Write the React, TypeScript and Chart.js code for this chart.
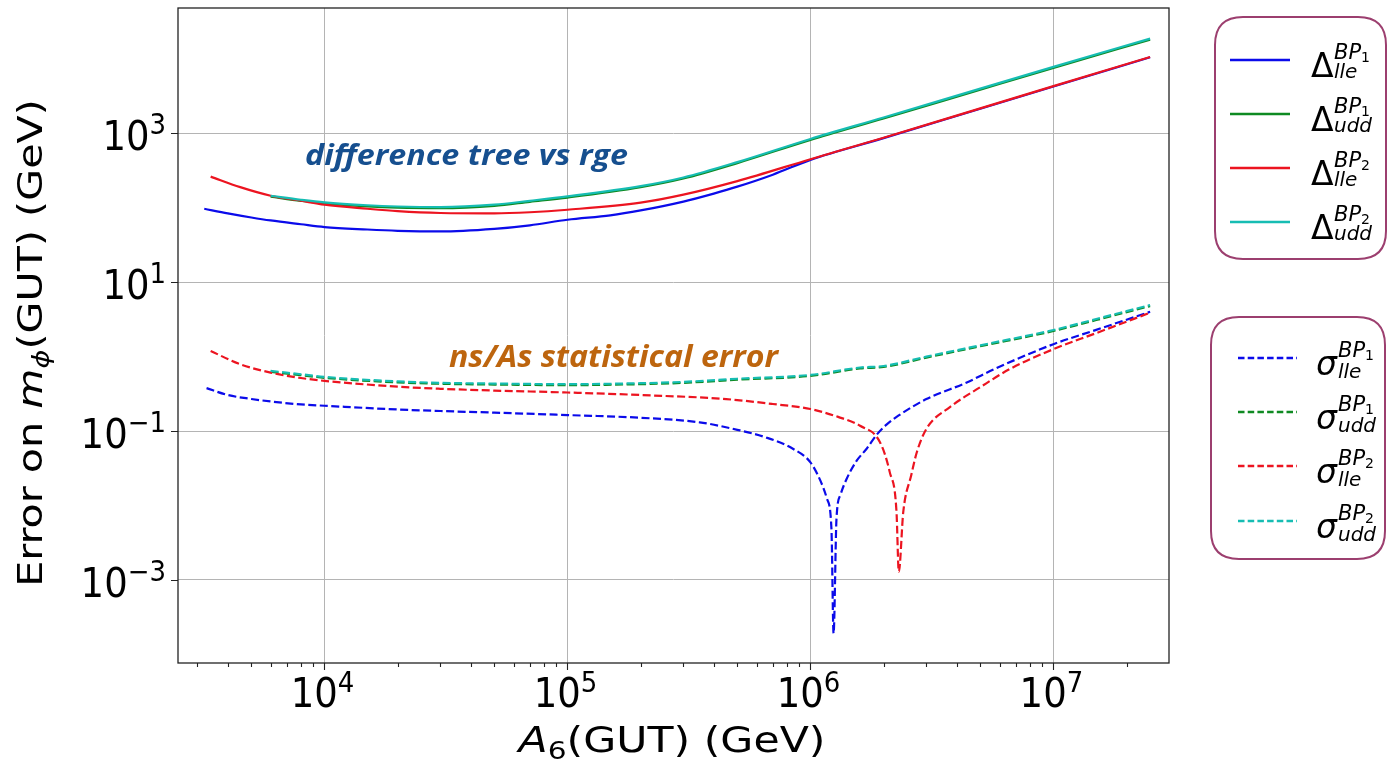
import React, { useEffect, useRef } from 'react';
import { Chart, registerables } from 'chart.js';
Chart.register(...registerables);

// ---------- axis ranges ----------
const X_MIN = 2495;
const X_MAX = 2.99e7;
const Y_MIN = 7.67e-5;
const Y_MAX = 4.82e4;

// ---------- tick labels ----------
const xTickValues = [1e4, 1e5, 1e6, 1e7];
const xTickExponents = ['4', '5', '6', '7'];
const yTickValues = [1e-3, 1e-1, 1e1, 1e3];
const yTickExponents = ['\u22123', '\u22121', '1', '3'];
const xMinorMultipliers = [2, 3, 4, 5, 6, 7, 8, 9];
const xMinorDecades = [3, 4, 5, 6, 7];

// ---------- data: Delta (difference tree vs rge) ----------
const dLle1X = [3200, 4000, 5000, 6000, 8000, 1e4, 1.5e4, 2e4, 3e4, 5e4, 7e4, 1e5, 1.5e5, 2e5, 3e5, 4e5, 5e5, 7e5, 1e6, 2e6, 5e6, 1e7, 2.5e7];
const dLle1Y = [97, 84, 74, 67.5, 60, 55, 51, 49, 48, 52, 58, 69, 79, 92, 121, 155, 192, 278, 440, 860, 2140, 4250, 10500];

const dUdd1X = [6000, 8000, 1e4, 1.5e4, 2e4, 3e4, 5e4, 7e4, 1e5, 2e5, 3e5, 5e5, 1e6, 2e6, 5e6, 1e7, 2.5e7];
const dUdd1Y = [141, 124, 114, 104, 100, 98.5, 106, 120, 137, 189, 247, 398, 815, 1580, 3860, 7570, 18150];

const dLle2X = [3400, 4500, 6000, 8000, 1e4, 1.5e4, 2e4, 3e4, 5e4, 7e4, 1e5, 2e5, 3e5, 5e5, 1e6, 2e6, 5e6, 1e7, 2.5e7];
const dLle2Y = [262, 189, 145, 124, 110, 97, 90, 85, 84, 87, 94, 117, 150, 228, 449, 873, 2160, 4300, 10600];

const dUdd2X = [6000, 8000, 1e4, 1.5e4, 2e4, 3e4, 5e4, 7e4, 1e5, 2e5, 3e5, 5e5, 1e6, 2e6, 5e6, 1e7, 2.5e7];
const dUdd2Y = [145, 128, 118, 108, 104, 102, 110, 124, 142, 195, 255, 410, 840, 1630, 3980, 7800, 18700];

// ---------- data: sigma (ns/As statistical error) ----------
const sLle1X = [3270, 4000, 5000, 6000, 8000, 1e4, 2e4, 3e4, 5e4, 1e5, 2e5, 3.5e5, 5e5, 6.5e5, 8.5e5, 1e6, 1.1e6, 1.17e6, 1.22e6, 1.245e6, 1.28e6, 1.33e6, 1.41e6, 1.55e6, 1.7e6, 1.87e6, 2.05e6, 2.3e6, 3e6, 4.4e6, 5.7e6, 1e7, 1.5e7, 2.5e7];
const sLle1Y = [0.378, 0.305, 0.27, 0.25, 0.228, 0.219, 0.195, 0.186, 0.177, 0.164, 0.151, 0.131, 0.104, 0.083, 0.0575, 0.038, 0.0214, 0.0123, 0.0049, 0.000192, 0.0067, 0.014, 0.0229, 0.04, 0.0575, 0.0887, 0.121, 0.161, 0.269, 0.45, 0.678, 1.47, 2.29, 4.0];

const sUdd1X = [6000, 8000, 1e4, 2e4, 3e4, 5e4, 1e5, 2e5, 3e5, 5e5, 1e6, 1.6e6, 2e6, 3e6, 5e6, 1e7, 1.5e7, 2.5e7];
const sUdd1Y = [0.625, 0.563, 0.519, 0.451, 0.432, 0.422, 0.414, 0.427, 0.444, 0.49, 0.551, 0.693, 0.726, 0.97, 1.38, 2.21, 3.1, 4.79];

const sLle2X = [3400, 4500, 6000, 8000, 1e4, 2e4, 3e4, 5e4, 1e5, 2e5, 4.5e5, 7e5, 1e6, 1.3e6, 1.6e6, 1.93e6, 2.12e6, 2.26e6, 2.31e6, 2.41e6, 2.6e6, 2.74e6, 3e6, 3.75e6, 5e6, 6.6e6, 1e7, 1.5e7, 2.5e7];
const sLle2Y = [1.19, 0.79, 0.61, 0.516, 0.473, 0.395, 0.37, 0.35, 0.33, 0.305, 0.269, 0.231, 0.198, 0.155, 0.118, 0.0714, 0.0281, 0.0083, 0.00129, 0.0082, 0.0257, 0.052, 0.107, 0.21, 0.389, 0.678, 1.26, 2.07, 3.89];

const sUdd2X = [6000, 8000, 1e4, 2e4, 3e4, 5e4, 1e5, 2e5, 3e5, 5e5, 1e6, 1.6e6, 2e6, 3e6, 5e6, 1e7, 1.5e7, 2.5e7];
const sUdd2Y = [0.644, 0.58, 0.535, 0.465, 0.445, 0.435, 0.427, 0.44, 0.458, 0.505, 0.568, 0.714, 0.748, 1.0, 1.42, 2.28, 3.2, 4.94];

// ---------- styles ----------
const BLUE = '#0b0bea';
const GREEN = '#0f8a22';
const RED = '#ec1420';
const CYAN = '#16bdb3';
const FONT = "'DejaVu Sans', sans-serif";
const DASH = [8, 3.5];

type Part = { t: string; size: number; italic?: boolean; weight?: string; dy?: number; family?: string };

const partFont = (p: Part) =>
  `${p.italic ? 'italic ' : ''}${p.weight || 'normal'} ${p.size}px ${p.family || FONT}`;

function measureParts(ctx: CanvasRenderingContext2D, parts: Part[]) {
  let w = 0;
  for (const p of parts) {
    ctx.font = partFont(p);
    w += ctx.measureText(p.t).width;
  }
  return w;
}

function drawParts(
  ctx: CanvasRenderingContext2D,
  parts: Part[],
  x: number,
  y: number,
  align: 'left' | 'center' | 'right',
  color: string,
  sx = 1,
  sy = 1,
  rotate = 0
) {
  const w = measureParts(ctx, parts);
  ctx.save();
  ctx.translate(x, y);
  if (rotate) ctx.rotate(rotate);
  ctx.scale(sx, sy);
  let cx = align === 'center' ? -w / 2 : align === 'right' ? -w : 0;
  ctx.textAlign = 'left';
  ctx.textBaseline = 'alphabetic';
  ctx.fillStyle = color;
  for (const p of parts) {
    ctx.font = partFont(p);
    ctx.fillText(p.t, cx, p.dy || 0);
    cx += ctx.measureText(p.t).width;
  }
  ctx.restore();
}

function roundRect(ctx: CanvasRenderingContext2D, x: number, y: number, w: number, h: number, r: number) {
  ctx.beginPath();
  ctx.moveTo(x + r, y);
  ctx.lineTo(x + w - r, y);
  ctx.quadraticCurveTo(x + w, y, x + w, y + r);
  ctx.lineTo(x + w, y + h - r);
  ctx.quadraticCurveTo(x + w, y + h, x + w - r, y + h);
  ctx.lineTo(x + r, y + h);
  ctx.quadraticCurveTo(x, y + h, x, y + h - r);
  ctx.lineTo(x, y + r);
  ctx.quadraticCurveTo(x, y, x + r, y);
  ctx.closePath();
}

const legendEntries = [
  { color: BLUE, sub: 'lle', n: '1' },
  { color: GREEN, sub: 'udd', n: '1' },
  { color: RED, sub: 'lle', n: '2' },
  { color: CYAN, sub: 'udd', n: '2' },
];

const overlayPlugin = {
  id: 'overlay',
  afterDraw(chart: any) {
    const ctx: CanvasRenderingContext2D = chart.ctx;
    const area = chart.chartArea;
    const xs = chart.scales.x;
    const ys = chart.scales.y;

    // frame
    ctx.save();
    ctx.strokeStyle = '#222';
    ctx.lineWidth = 1.3;
    ctx.strokeRect(area.left, area.top, area.right - area.left, area.bottom - area.top);

    // ticks
    ctx.lineWidth = 1.1;
    ctx.beginPath();
    for (const v of xTickValues) {
      const px = Math.round(xs.getPixelForValue(v)) + 0.5;
      ctx.moveTo(px, area.bottom);
      ctx.lineTo(px, area.bottom + 7);
    }
    for (const d of xMinorDecades) {
      for (const m of xMinorMultipliers) {
        const v = m * Math.pow(10, d);
        if (v <= X_MIN || v >= X_MAX) continue;
        const px = Math.round(xs.getPixelForValue(v)) + 0.5;
        ctx.moveTo(px, area.bottom);
        ctx.lineTo(px, area.bottom + 4);
      }
    }
    for (const v of yTickValues) {
      const py = Math.round(ys.getPixelForValue(v)) + 0.5;
      ctx.moveTo(area.left, py);
      ctx.lineTo(area.left - 7, py);
    }
    ctx.stroke();
    ctx.restore();

    // tick labels
    xTickValues.forEach((v, i) => {
      const px = xs.getPixelForValue(v);
      drawParts(ctx, [{ t: '10', size: 37 }, { t: xTickExponents[i], size: 26, dy: -14 }], px - 2, 707, 'center', '#000', 1, 1.1);
    });
    yTickValues.forEach((v, i) => {
      const py = ys.getPixelForValue(v);
      drawParts(ctx, [{ t: '10', size: 37 }, { t: yTickExponents[i], size: 26, dy: -15 }], 166, py + 17, 'right', '#000', 1, 1.08);
    });

    // x title
    const xParts: Part[] = [
      { t: 'A', size: 36, italic: true },
      { t: '6', size: 25, dy: 7 },
      { t: '(GUT) (GeV)', size: 36 },
    ];
    const xw = measureParts(ctx, xParts);
    const xsx = Math.max(0.85, Math.min(1.25, 307 / xw));
    drawParts(ctx, xParts, 672, 752, 'center', '#000', xsx, 1);

    // y title (rotated)
    const yParts: Part[] = [
      { t: 'Error on ', size: 33 },
      { t: 'm', size: 33, italic: true },
      { t: '\u03d5', size: 23, italic: true, dy: 7 },
      { t: '(GUT) (GeV)', size: 33 },
    ];
    const yw = measureParts(ctx, yParts);
    const ysx = Math.max(0.85, Math.min(1.25, 493 / yw));
    drawParts(ctx, yParts, 42, 343, 'center', '#000', ysx, 1, -Math.PI / 2);

    // annotations
    const a1: Part[] = [{ t: 'difference tree vs rge', size: 29, italic: true, weight: 'bold', family: "'Open Sans', 'Noto Sans', sans-serif" }];
    const a1w = measureParts(ctx, a1);
    drawParts(ctx, a1, 305, 165, 'left', '#164f8f', Math.max(0.8, Math.min(1.2, 323 / a1w)), 1);
    const a2: Part[] = [{ t: 'ns/As statistical error', size: 31, italic: true, weight: 'bold', family: "'Open Sans', 'Noto Sans', sans-serif" }];
    const a2w = measureParts(ctx, a2);
    drawParts(ctx, a2, 449, 367, 'left', '#bd650e', Math.max(0.8, Math.min(1.2, 329 / a2w)), 1);

    // legends
    ctx.save();
    ctx.fillStyle = '#fff';
    ctx.strokeStyle = '#9c3f6f';
    ctx.lineWidth = 2;
    roundRect(ctx, 1215, 17, 171, 242, 28);
    ctx.fill();
    ctx.stroke();
    roundRect(ctx, 1211, 317, 174, 242, 28);
    ctx.fill();
    ctx.stroke();
    ctx.restore();

    const rows1 = [60, 114, 168, 222];
    legendEntries.forEach((e, i) => {
      const y = rows1[i];
      ctx.save();
      ctx.strokeStyle = e.color;
      ctx.lineWidth = 2.5;
      ctx.beginPath();
      ctx.moveTo(1230, y);
      ctx.lineTo(1290, y);
      ctx.stroke();
      ctx.restore();
      drawParts(ctx, [{ t: '\u0394', size: 33 }], 1311, y + 17, 'left', '#000');
      drawParts(ctx, [{ t: 'BP', size: 21, italic: true }, { t: e.n, size: 14, dy: 3 }], 1334, y - 1, 'left', '#000');
      drawParts(ctx, [{ t: e.sub, size: 20, italic: true }], 1334, y + 18, 'left', '#000');
    });

    const rows2 = [358, 412, 466, 521];
    legendEntries.forEach((e, i) => {
      const y = rows2[i];
      ctx.save();
      ctx.strokeStyle = e.color;
      ctx.lineWidth = 2.3;
      ctx.setLineDash([6.5, 3.2]);
      ctx.beginPath();
      ctx.moveTo(1238, y);
      ctx.lineTo(1297, y);
      ctx.stroke();
      ctx.restore();
      drawParts(ctx, [{ t: '\u03c3', size: 33, italic: true }], 1316, y + 17, 'left', '#000');
      drawParts(ctx, [{ t: 'BP', size: 21, italic: true }, { t: e.n, size: 14, dy: 3 }], 1338, y - 1, 'left', '#000');
      drawParts(ctx, [{ t: e.sub, size: 20, italic: true }], 1338, y + 20, 'left', '#000');
    });
  },
};

const pts = (xs: number[], ys: number[]) => xs.map((x, i) => ({ x, y: ys[i] }));

function line(label: string, xs: number[], ys: number[], color: string, dashed: boolean, order: number) {
  return {
    label,
    data: pts(xs, ys),
    borderColor: color,
    backgroundColor: color,
    borderWidth: 2.2,
    borderDash: dashed ? DASH : [],
    pointRadius: 0,
    cubicInterpolationMode: 'monotone',
    fill: false,
    order,
  };
}

export default function App() {
  const ref = useRef<HTMLCanvasElement | null>(null);
  useEffect(() => {
    if (!ref.current) return;
    const chart = new Chart(ref.current, {
      type: 'line',
      data: {
        datasets: [
          line('Δ lle BP1', dLle1X, dLle1Y, BLUE, false, 8),
          line('Δ udd BP1', dUdd1X, dUdd1Y, GREEN, false, 7),
          line('Δ lle BP2', dLle2X, dLle2Y, RED, false, 6),
          line('Δ udd BP2', dUdd2X, dUdd2Y, CYAN, false, 5),
          line('σ lle BP1', sLle1X, sLle1Y, BLUE, true, 4),
          line('σ udd BP1', sUdd1X, sUdd1Y, GREEN, true, 3),
          line('σ lle BP2', sLle2X, sLle2Y, RED, true, 2),
          line('σ udd BP2', sUdd2X, sUdd2Y, CYAN, true, 1),
        ] as any,
      },
      options: {
        animation: false,
        responsive: false,
        maintainAspectRatio: false,
        devicePixelRatio: 1,
        layout: { padding: { left: 0, top: 8, right: 219, bottom: 0 } },
        plugins: { legend: { display: false }, tooltip: { enabled: false } },
        scales: {
          x: {
            type: 'logarithmic',
            min: X_MIN,
            max: X_MAX,
            border: { display: false },
            grid: { color: '#b4b4b4', lineWidth: 1, drawTicks: false },
            ticks: { display: false },
            afterBuildTicks: (s: any) => {
              s.ticks = xTickValues.map((v) => ({ value: v, major: true }));
            },
            afterFit: (s: any) => {
              s.height = 99;
            },
          },
          y: {
            type: 'logarithmic',
            min: Y_MIN,
            max: Y_MAX,
            border: { display: false },
            grid: { color: '#b4b4b4', lineWidth: 1, drawTicks: false },
            ticks: { display: false },
            afterBuildTicks: (s: any) => {
              s.ticks = yTickValues.map((v) => ({ value: v, major: true }));
            },
            afterFit: (s: any) => {
              s.width = 178;
            },
          },
        },
      } as any,
      plugins: [overlayPlugin],
    });
    return () => chart.destroy();
  }, []);
  return (
    <div style={{ position: 'absolute', left: 0, top: 0, width: 1388, height: 762, background: '#fff' }}>
      <canvas ref={ref} width={1388} height={762} style={{ display: 'block', width: 1388, height: 762 }} />
    </div>
  );
}
